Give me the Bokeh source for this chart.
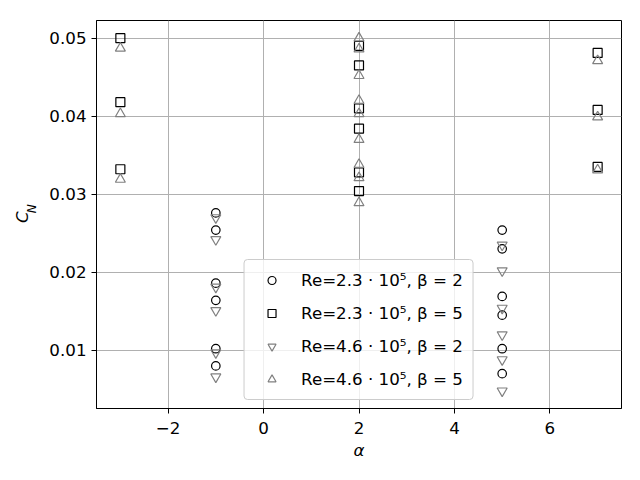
from bokeh.plotting import figure
from bokeh.models import Range1d, FixedTicker, Legend, LegendItem, LinearAxis
from bokeh.embed import file_html
from bokeh.resources import INLINE

# Re=2.3e5, beta=2 (circles)
alpha_c = [-1, -1, -1, -1, -1, -1, 5, 5, 5, 5, 5, 5]
cn_c = [0.0276, 0.0254, 0.0186, 0.0164, 0.0102, 0.0080,
        0.0254, 0.0230, 0.0169, 0.0145, 0.0102, 0.0070]
# Re=2.3e5, beta=5 (squares)
alpha_s = [-3, -3, -3, 2, 2, 2, 2, 2, 2, 7, 7, 7]
cn_s = [0.0500, 0.0418, 0.0332,
        0.0490, 0.0465, 0.0410, 0.0384, 0.0328, 0.0304,
        0.0481, 0.0408, 0.0335]
# Re=4.6e5, beta=2 (down triangles)
alpha_d = [-1, -1, -1, -1, -1, -1, 5, 5, 5, 5, 5, 5]
cn_d = [0.0270, 0.0242, 0.0181, 0.0151, 0.0097, 0.0066,
        0.0235, 0.0202, 0.0154, 0.0120, 0.0088, 0.0048]
# Re=4.6e5, beta=5 (up triangles)
alpha_u = [-3, -3, -3, 2, 2, 2, 2, 2, 2, 2, 2, 2, 7, 7, 7]
cn_u = [0.0487, 0.0403, 0.0319,
        0.0500, 0.0486, 0.0452, 0.0420, 0.0403, 0.0370, 0.0338, 0.0321, 0.0289,
        0.0471, 0.0399, 0.0331]

labels = ["Re=2.3 · 10⁵, β = 2", "Re=2.3 · 10⁵, β = 5",
          "Re=4.6 · 10⁵, β = 2", "Re=4.6 · 10⁵, β = 5"]
x_ticks = [-2, 0, 2, 4, 6]
x_tick_labels = ["−2", "0", "2", "4", "6"]
y_ticks = [0.01, 0.02, 0.03, 0.04, 0.05]
y_tick_labels = ["0.01", "0.02", "0.03", "0.04", "0.05"]

FONT = "DejaVu Sans"
FS = "16.7px"

p = figure(width=632, height=472, output_backend="svg", toolbar_location=None,
           x_range=Range1d(-3.5, 7.5), y_range=Range1d(0.00254, 0.05226),
           min_border_left=96, min_border_right=11, min_border_top=20,
           min_border_bottom=64)
p.outline_line_color = "black"
p.outline_line_alpha = 1.0
p.outline_line_width = 1

for ax, ticks, tl in ((p.xaxis[0], x_ticks, x_tick_labels), (p.yaxis[0], y_ticks, y_tick_labels)):
    ax.ticker = FixedTicker(ticks=ticks)
    ax.major_label_overrides = {t: l for t, l in zip(ticks, tl)}
    ax.major_label_text_font = FONT
    ax.major_label_text_font_size = FS
    ax.major_label_text_color = "black"
    ax.major_tick_in = 0
    ax.major_tick_out = 5
    ax.minor_tick_in = 0
    ax.minor_tick_out = 0
    ax.axis_line_color = "black"
    ax.major_tick_line_color = "black"
    ax.major_label_standoff = 5

p.xaxis.major_label_standoff = 8
p.xaxis.axis_label = "α"
p.xaxis.axis_label_text_font = FONT
p.xaxis.axis_label_text_font_size = FS
p.xaxis.axis_label_text_font_style = "italic"
p.xaxis.axis_label_text_color = "black"
p.xaxis.axis_label_standoff = 3

# y label "C" with subscript "N", built from two label-only axes
def label_axis(text, size, standoff):
    a = LinearAxis(ticker=FixedTicker(ticks=[]), axis_line_color=None,
                   major_tick_line_color=None, minor_tick_line_color=None,
                   major_label_text_font_size="0px")
    a.axis_label = text
    a.axis_label_text_font = FONT
    a.axis_label_text_font_size = size
    a.axis_label_text_font_style = "italic"
    a.axis_label_text_color = "black"
    a.axis_label_standoff = standoff
    return a

p.add_layout(label_axis("\u00a0\u00a0\u00a0N", "12px", 8), "left")
p.add_layout(label_axis("C\u00a0", FS, -10), "left")

p.xgrid.ticker = FixedTicker(ticks=x_ticks)
p.ygrid.ticker = FixedTicker(ticks=y_ticks)
p.grid.grid_line_color = "#b0b0b0"
p.grid.grid_line_width = 1

r1 = p.scatter(alpha_c, cn_c, marker="circle", size=8.5, fill_color=None,
               line_color="black", line_width=1.2)
r2 = p.scatter(alpha_s, cn_s, marker="square", size=9, fill_color=None,
               line_color="black", line_width=1.2)
r3 = p.scatter(alpha_d, cn_d, marker="inverted_triangle", size=10, fill_color=None,
               line_color="gray", line_width=1.2)
r4 = p.scatter(alpha_u, cn_u, marker="triangle", size=10, fill_color=None,
               line_color="gray", line_width=1.2)

legend = Legend(items=[LegendItem(label=l, renderers=[r]) for l, r in zip(labels, [r1, r2, r3, r4])],
                location="bottom_center", margin=8, padding=10, spacing=13,
                glyph_width=34, glyph_height=20, label_height=20, label_standoff=13,
                label_text_font=FONT, label_text_font_size=FS, label_text_color="black",
                border_line_color="#cccccc", border_line_alpha=1.0,
                background_fill_alpha=0.8, border_radius=4)
p.add_layout(legend)

open("out.html", "w").write(file_html(p, INLINE))
